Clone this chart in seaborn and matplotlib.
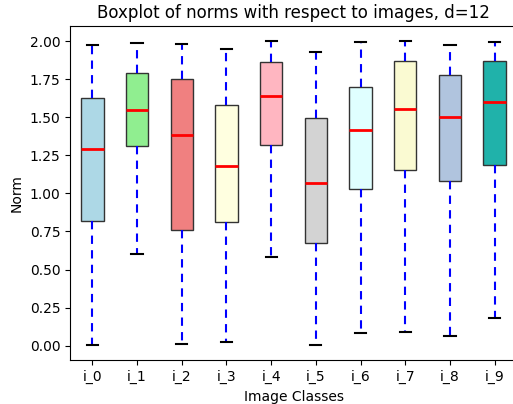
import pandas as pd
import matplotlib
matplotlib.use("Agg")
import matplotlib.pyplot as plt
import seaborn as sns

# --- values (five-number summary per class) ---
classes = ["i_0", "i_1", "i_2", "i_3", "i_4", "i_5", "i_6", "i_7", "i_8", "i_9"]
mins    = [0.004, 0.600, 0.009, 0.026, 0.580, 0.004, 0.081, 0.092, 0.064, 0.183]
q1s     = [0.819, 1.310, 0.762, 0.809, 1.316, 0.675, 1.031, 1.151, 1.079, 1.185]
medians = [1.292, 1.547, 1.386, 1.180, 1.637, 1.066, 1.413, 1.554, 1.501, 1.602]
q3s     = [1.624, 1.791, 1.749, 1.582, 1.863, 1.494, 1.696, 1.870, 1.780, 1.870]
maxs    = [1.973, 1.989, 1.980, 1.949, 1.999, 1.931, 1.991, 1.998, 1.971, 1.997]
colors = ["lightblue", "lightgreen", "lightcoral", "lightyellow", "lightpink",
          "lightgray", "lightcyan", "lightgoldenrodyellow", "lightsteelblue",
          "lightseagreen"]

# long-form table: one row per summary value
rows = []
for i, c in enumerate(classes):
    for v in (mins[i], q1s[i], medians[i], q3s[i], maxs[i]):
        rows.append({"Image Classes": c, "Norm": v})
df = pd.DataFrame(rows)

fig = plt.figure(figsize=(5.13, 4.04), dpi=100)
# axes run past the right edge of the picture, as in the reference crop
ax = fig.add_axes([70 / 513, (404 - 360.3) / 404, (517 - 70) / 513, (360.3 - 26) / 404])

sns.boxplot(
    data=df, x="Image Classes", y="Norm", hue="Image Classes",
    palette=dict(zip(classes, colors)), legend=False, saturation=1,
    width=0.5, whis=(0, 100), linewidth=1, linecolor="black",
    boxprops=dict(edgecolor="#333333", linewidth=1),
    whiskerprops=dict(color="blue", linestyle=(0, (4, 3)), linewidth=1.5),
    capprops=dict(color="black", linewidth=1.5),
    medianprops=dict(color="red", linewidth=2),
    ax=ax,
)
ax.spines["right"].set_visible(False)

ax.set_title("Boxplot of norms with respect to images, d=12")
ax.set_xlabel("Image Classes")
ax.set_ylabel("Norm")

fig.savefig("out.png", dpi=100)
